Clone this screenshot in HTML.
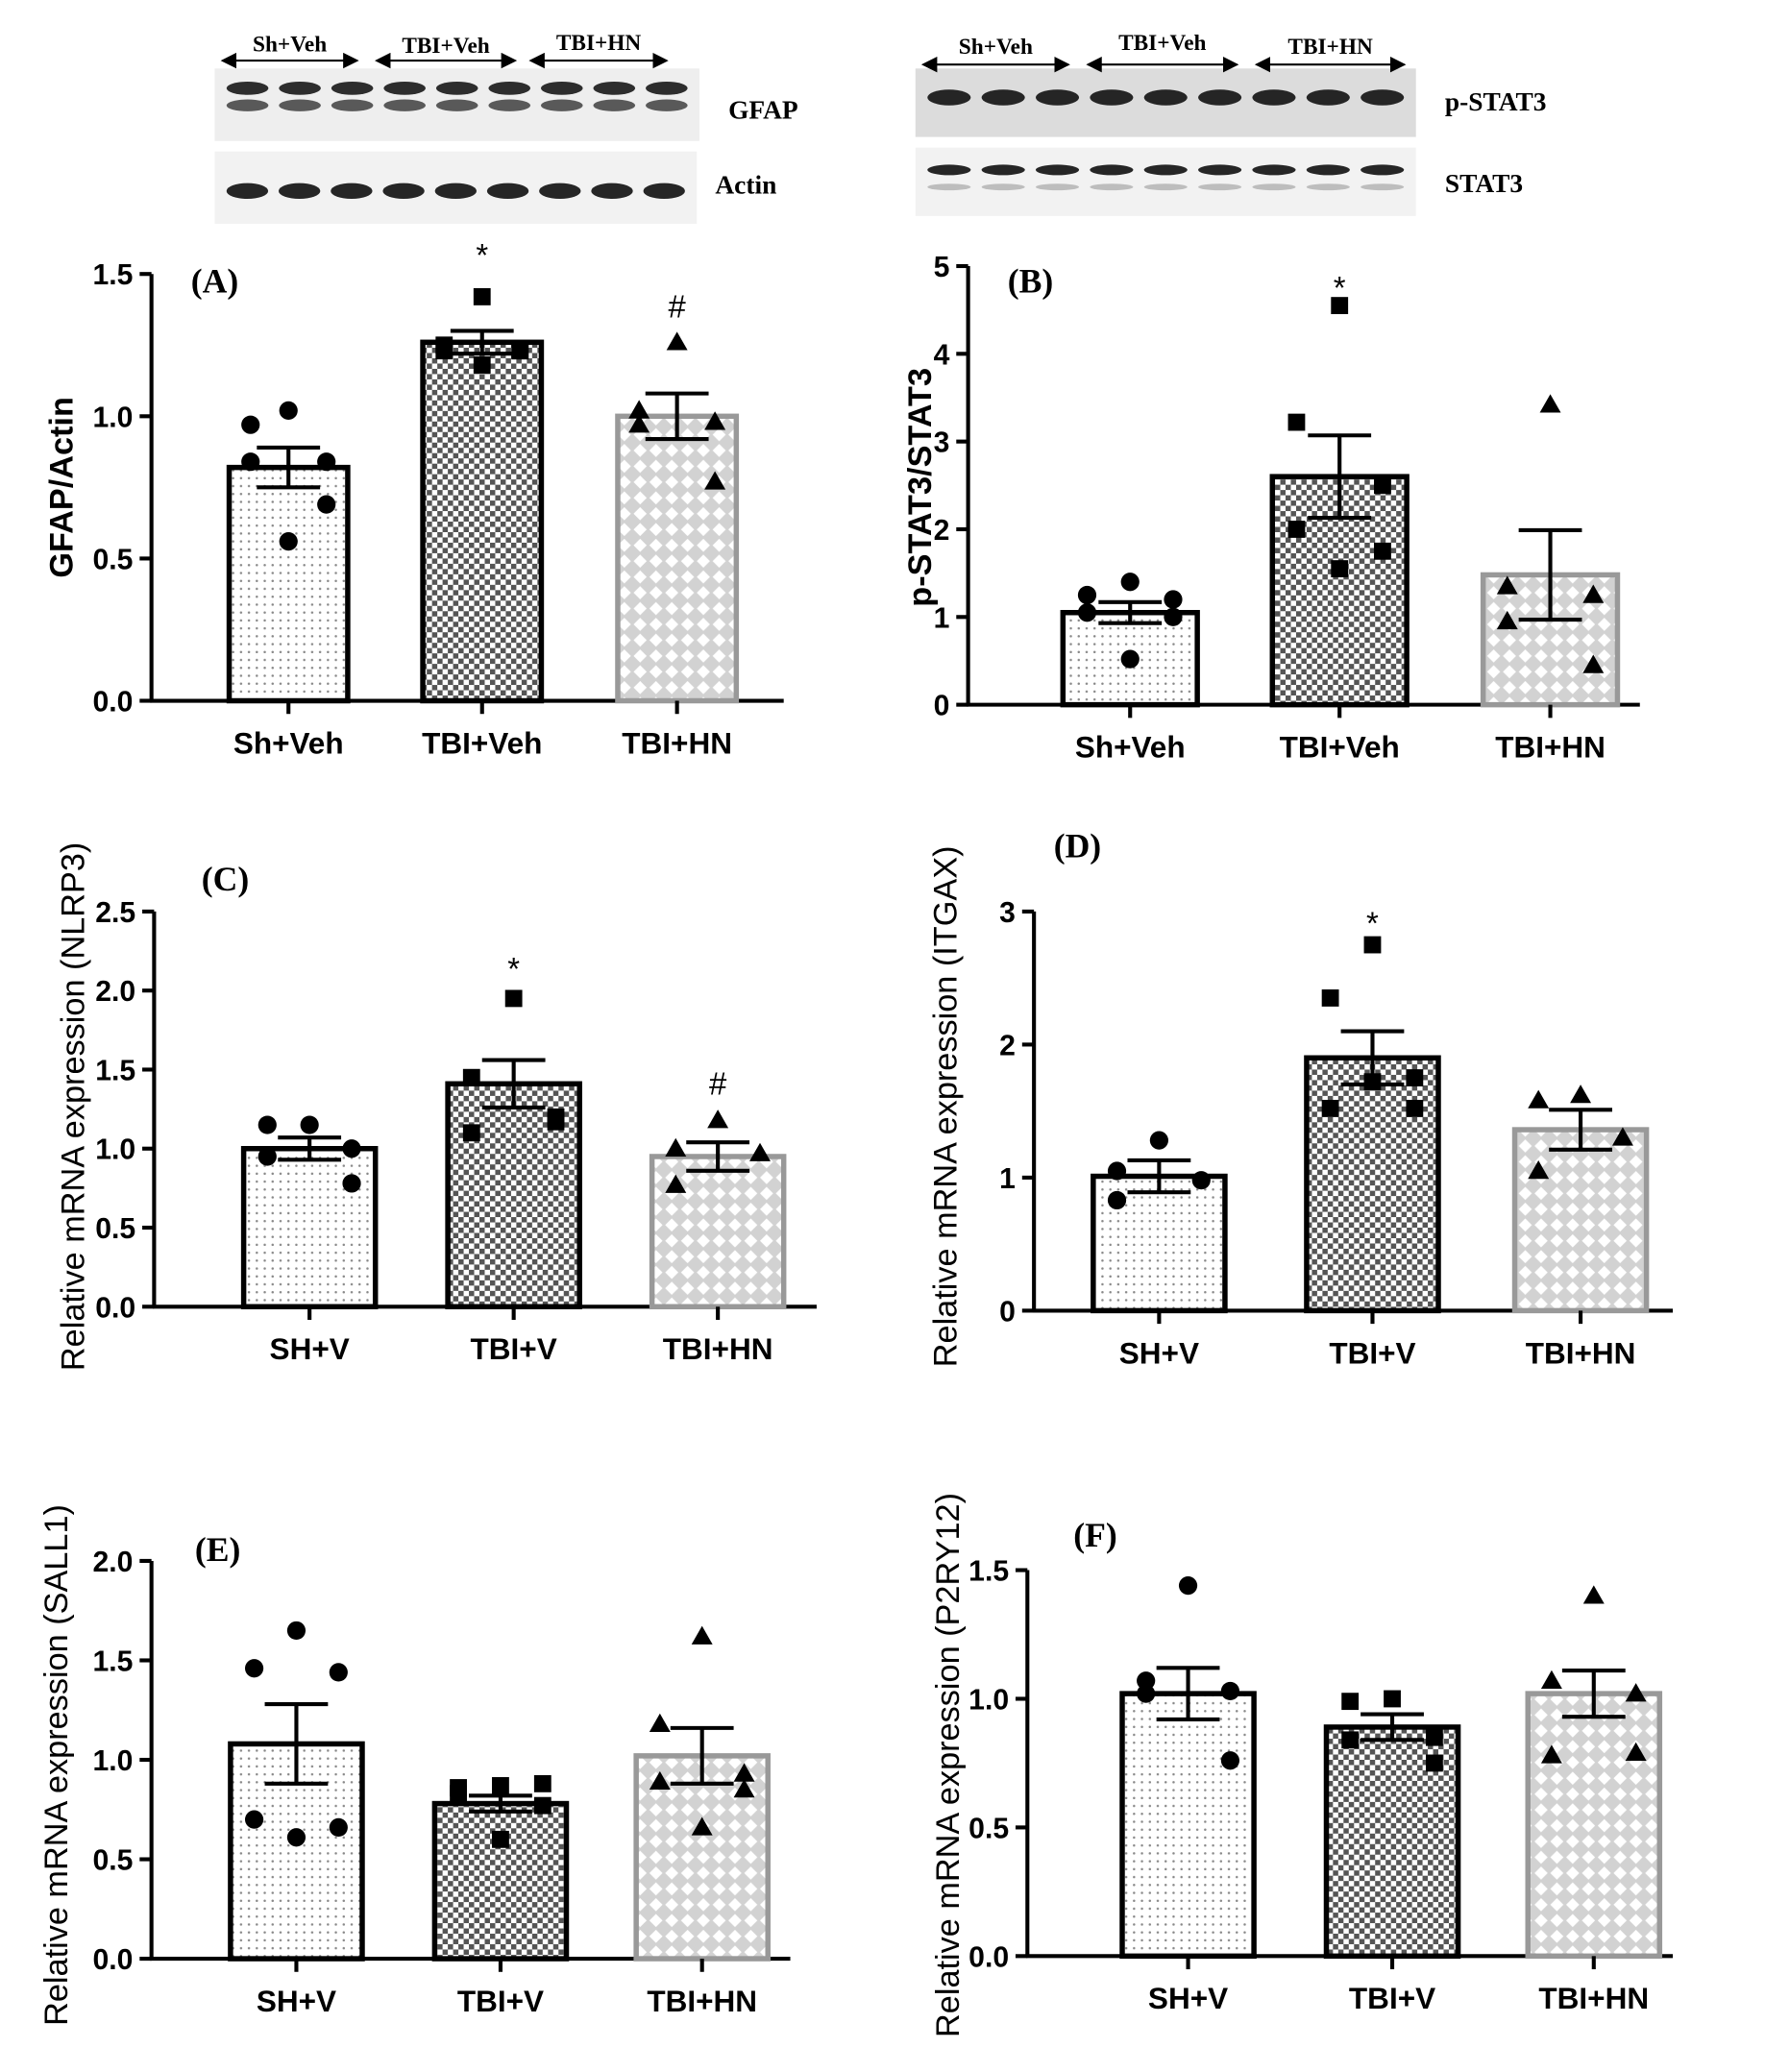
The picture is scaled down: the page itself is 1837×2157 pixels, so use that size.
<!DOCTYPE html>
<html><head><meta charset="utf-8"><style>
html,body{margin:0;padding:0;background:#fff;}
svg{display:block;}
text{font-family:"Liberation Sans",sans-serif;}
.serif{font-family:"Liberation Serif",serif;font-weight:bold;}
</style></head><body>
<svg id="fig" xmlns="http://www.w3.org/2000/svg" width="1837" height="2157" viewBox="0 0 1340 1573" preserveAspectRatio="none">
<defs>
<pattern id="pDots" width="6" height="6" patternUnits="userSpaceOnUse"><rect width="6" height="6" fill="#fff"/><circle cx="3" cy="3" r="0.9" fill="#888"/></pattern>
<pattern id="pCheck" width="8" height="8" patternUnits="userSpaceOnUse"><rect width="8" height="8" fill="#fff"/><rect width="4" height="4" fill="#555"/><rect x="4" y="4" width="4" height="4" fill="#555"/></pattern>
<pattern id="pHatch" width="12" height="12" patternUnits="userSpaceOnUse"><rect width="12" height="12" fill="#d2d2d2"/><path d="M6 1 L11 6 L6 11 L1 6 Z" fill="#fff"/></pattern>
<marker id="ah" markerWidth="8" markerHeight="8" refX="7" refY="4" orient="auto-start-reverse"><path d="M0 0 L8 4 L0 8 Z" fill="#000"/></marker>
</defs>
<g id="blots"></g>
<g id="charts"></g>
</svg>
<script>
// ---- chart data ----
const groupsA = ["Sh+Veh","TBI+Veh","TBI+HN"];
const meansA = [0.82,1.26,1.0];
const semA = [0.07,0.04,0.08];
const ptsA_sh = [1.02,0.97,0.84,0.84,0.69,0.56];
const ptsA_tbi = [1.42,1.25,1.23,1.23,1.23,1.18];
const ptsA_hn = [1.26,1.02,0.98,0.97,0.77];
const ticksA = [0,0.5,1.0,1.5];
const tickLabelsA = ["0.0","0.5","1.0","1.5"];

const groupsB = ["Sh+Veh","TBI+Veh","TBI+HN"];
const meansB = [1.05,2.6,1.48];
const semB = [0.12,0.47,0.51];
const ptsB_sh = [1.4,1.25,1.2,1.05,1.0,0.52];
const ptsB_tbi = [4.55,3.22,2.5,2.0,1.75,1.55];
const ptsB_hn = [3.42,1.35,1.25,0.95,0.45];
const ticksB = [0,1,2,3,4,5];
const tickLabelsB = ["0","1","2","3","4","5"];

const groupsC = ["SH+V","TBI+V","TBI+HN"];
const meansC = [1.0,1.41,0.95];
const semC = [0.07,0.15,0.09];
const ptsC_sh = [1.15,1.15,1.0,0.95,0.78];
const ptsC_tbi = [1.95,1.45,1.2,1.1,1.17];
const ptsC_hn = [1.18,1.0,0.97,0.77];
const ticksC = [0,0.5,1.0,1.5,2.0,2.5];
const tickLabelsC = ["0.0","0.5","1.0","1.5","2.0","2.5"];

const groupsD = ["SH+V","TBI+V","TBI+HN"];
const meansD = [1.01,1.9,1.36];
const semD = [0.12,0.2,0.15];
const ptsD_sh = [1.28,1.05,0.98,0.83];
const ptsD_tbi = [2.75,2.35,1.75,1.52,1.52,1.72];
const ptsD_hn = [1.62,1.58,1.3,1.05];
const ticksD = [0,1,2,3];
const tickLabelsD = ["0","1","2","3"];

const groupsE = ["SH+V","TBI+V","TBI+HN"];
const meansE = [1.08,0.78,1.02];
const semE = [0.2,0.04,0.14];
const ptsE_sh = [1.65,1.46,1.44,0.7,0.66,0.61];
const ptsE_tbi = [0.87,0.86,0.88,0.83,0.77,0.6];
const ptsE_hn = [1.62,1.18,0.93,0.89,0.85,0.66];
const ticksE = [0,0.5,1.0,1.5,2.0];
const tickLabelsE = ["0.0","0.5","1.0","1.5","2.0"];

const groupsF = ["SH+V","TBI+V","TBI+HN"];
const meansF = [1.02,0.89,1.02];
const semF = [0.1,0.05,0.09];
const ptsF_sh = [1.44,1.07,1.03,1.02,0.76];
const ptsF_tbi = [1.0,0.99,0.85,0.84,0.75];
const ptsF_hn = [1.4,1.07,1.02,0.78,0.79];
const ticksF = [0,0.5,1.0,1.5];
const tickLabelsF = ["0.0","0.5","1.0","1.5"];

const NS="http://www.w3.org/2000/svg";
function mk(tag, attrs, parent){const e=document.createElementNS(NS,tag);for(const k in attrs)e.setAttribute(k,attrs[k]);if(parent)parent.appendChild(e);return e;}
// symmetric scatter layout (style, not data)
const JIT=[0,-1,1,-0.5,0.5,0];
function jitter(j){const s=[0,-1,1,-1,1,0,-0.5,0.5];return s[j%s.length];}

function chart(cfg){
  const g=mk("g",{},document.getElementById("charts"));
  
  
  const y=v=>cfg.y0+(cfg.yTop-cfg.y0)*(v/cfg.yMax);
  const x=i=>cfg.centers[i];
  const ya=mk("line",{x1:cfg.ax,y1:cfg.yTop,x2:cfg.ax,y2:cfg.y0,stroke:"#000","stroke-width":3},g);
  
  const xa=mk("line",{x1:cfg.ax-1,y1:cfg.y0,x2:cfg.axEnd,y2:cfg.y0,stroke:"#000","stroke-width":3},g);
  
  cfg.ticks.forEach((t,i)=>{
    mk("line",{x1:cfg.ax-9,y1:y(t),x2:cfg.ax,y2:y(t),stroke:"#000","stroke-width":3},g);
    const tl=mk("text",{x:cfg.ax-14,y:y(t)+8,"text-anchor":"end","font-size":22,"font-weight":"bold"},g);
    tl.textContent=cfg.tickLabels[i];
    
  });
  const fills=["url(#pDots)","url(#pCheck)","url(#pHatch)"];
  const strokes=["#000","#000","#999"];
  const pts=[cfg.p0,cfg.p1,cfg.p2];
  cfg.groups.forEach((gname,i)=>{
    const cx=x(i), w=cfg.bw;
    const bar=mk("rect",{x:cx-w/2,y:y(cfg.means[i]),width:w,height:cfg.y0-y(cfg.means[i]),fill:fills[i],stroke:strokes[i],"stroke-width":4},g);
    
    
    mk("line",{x1:cx,y1:cfg.y0,x2:cx,y2:cfg.y0+10,stroke:"#000","stroke-width":3},g);
    const lab=mk("text",{x:cx,y:cfg.y0+40,"text-anchor":"middle","font-size":23,"font-weight":"bold"},g);
    lab.textContent=gname;
    
    pts[i].forEach((v,j)=>{
      const off=jitter(j)*w*0.32;
      const py=y(v), px=cx+off;
      let m;
      if(i===0) m=mk("circle",{cx:px,cy:py,r:7,fill:"#000"},g);
      else if(i===1) m=mk("rect",{x:px-6.5,y:py-6.5,width:13,height:13,fill:"#000"},g);
      else m=mk("path",{d:`M${px} ${py-8} L${px+8} ${py+6} L${px-8} ${py+6} Z`,fill:"#000"},g);
      
    });
    const hi=y(cfg.means[i]+cfg.sem[i]), lo=y(cfg.means[i]-cfg.sem[i]);
    const eb=mk("path",{d:`M${cx} ${lo} L${cx} ${hi} M${cx-24} ${hi} L${cx+24} ${hi} M${cx-24} ${lo} L${cx+24} ${lo}`,stroke:"#000","stroke-width":3,fill:"none"},g);
    
    if(cfg.marks&&cfg.marks[i]){
      const mt=mk("text",{x:cx,y:y(cfg.means[i])-cfg.markOff[i],"text-anchor":"middle","font-size":24,"font-family":"Liberation Serif"},g);
      mt.textContent=cfg.marks[i];
      
    }
  });
  const pl=mk("text",{x:cfg.panelX,y:cfg.panelY,"font-size":26,class:"serif"},g);
  pl.textContent=cfg.panel;
  
  const yl=mk("text",{x:0,y:0,"text-anchor":"middle","font-size":cfg.ylSize||25,"font-weight":cfg.ylBold?"bold":"normal",transform:`translate(${cfg.ylX},${cfg.ylY}) rotate(-90)`},g);
  yl.textContent=cfg.ylabel;
  
}

chart({name:"chart-a-gfap",ax:115,axEnd:595,y0:532,yTop:208,yMax:1.5,centers:[219,366,514],bw:90,groups:groupsA,means:meansA,sem:semA,p0:ptsA_sh,p1:ptsA_tbi,p2:ptsA_hn,ticks:ticksA,tickLabels:tickLabelsA,marks:["","*","#"],markOff:[0,58,75],panel:"(A)",panelX:145,panelY:222,ylabel:"GFAP/Actin",ylX:55,ylY:370,ylSize:25,ylBold:true});
chart({name:"chart-b-pstat3",ax:735,axEnd:1245,y0:535,yTop:202,yMax:5,centers:[858,1017,1177],bw:102,groups:groupsB,means:meansB,sem:semB,p0:ptsB_sh,p1:ptsB_tbi,p2:ptsB_hn,ticks:ticksB,tickLabels:tickLabelsB,marks:["","*",""],markOff:[0,135,0],panel:"(B)",panelX:765,panelY:222,ylabel:"p-STAT3/STAT3",ylX:707,ylY:370,ylSize:25,ylBold:true});
chart({name:"chart-c-nlrp3",ax:117,axEnd:620,y0:992,yTop:692,yMax:2.5,centers:[235,390,545],bw:100,groups:groupsC,means:meansC,sem:semC,p0:ptsC_sh,p1:ptsC_tbi,p2:ptsC_hn,ticks:ticksC,tickLabels:tickLabelsC,marks:["","*","#"],markOff:[0,79,47],panel:"(C)",panelX:153,panelY:676,ylabel:"Relative mRNA expression (NLRP3)",ylX:64,ylY:840});
chart({name:"chart-d-itgax",ax:785,axEnd:1270,y0:995,yTop:692,yMax:3,centers:[880,1042,1200],bw:100,groups:groupsD,means:meansD,sem:semD,p0:ptsD_sh,p1:ptsD_tbi,p2:ptsD_hn,ticks:ticksD,tickLabels:tickLabelsD,marks:["","*",""],markOff:[0,94,0],panel:"(D)",panelX:800,panelY:651,ylabel:"Relative mRNA expression (ITGAX)",ylX:726,ylY:840});
chart({name:"chart-e-sall1",ax:115,axEnd:600,y0:1487,yTop:1185,yMax:2.0,centers:[225,380,533],bw:100,groups:groupsE,means:meansE,sem:semE,p0:ptsE_sh,p1:ptsE_tbi,p2:ptsE_hn,ticks:ticksE,tickLabels:tickLabelsE,panel:"(E)",panelX:148,panelY:1185,ylabel:"Relative mRNA expression (SALL1)",ylX:51,ylY:1340});
chart({name:"chart-f-p2ry12",ax:780,axEnd:1270,y0:1485,yTop:1192,yMax:1.5,centers:[902,1057,1210],bw:100,groups:groupsF,means:meansF,sem:semF,p0:ptsF_sh,p1:ptsF_tbi,p2:ptsF_hn,ticks:ticksF,tickLabels:tickLabelsF,panel:"(F)",panelX:815,panelY:1174,ylabel:"Relative mRNA expression (P2RY12)",ylX:728,ylY:1340});

// ---- western blots ----
function blot(name,x0,y0,w,h,bg,lanes,bands){
  const g=mk("g",{},document.getElementById("blots"));
  
  mk("rect",{x:x0,y:y0,width:w,height:h,fill:bg},g);
  const lw=(w-10)/lanes;
  for(let i=0;i<lanes;i++){
    bands.forEach(b=>{
      mk("ellipse",{cx:x0+5+lw*(i+0.5),cy:y0+b[0],rx:lw*0.4,ry:b[1],fill:b[2],opacity:b[3]},g);
    });
  }
}
blot("gfap-blot",163,52,368,55,"#eeeeee",9,[[15,5,"#222",0.95],[28,4.5,"#333",0.8]]);
blot("actin-blot",163,115,366,55,"#f2f2f2",9,[[30,6,"#1a1a1a",0.95]]);
blot("pstat3-blot",695,52,380,52,"#dcdcdc",9,[[22,6,"#1a1a1a",0.95]]);
blot("stat3-blot",695,112,380,52,"#f2f2f2",9,[[17,4,"#1a1a1a",0.95],[30,2.5,"#999",0.6]]);
const bl=document.getElementById("blots");
function arrow(x1,x2,y,lab,ly){
  const a=mk("line",{x1:x1+6,y1:y,x2:x2-6,y2:y,stroke:"#000","stroke-width":1.5,"marker-start":"url(#ah)","marker-end":"url(#ah)"},bl);
  
  const t=mk("text",{x:(x1+x2)/2,y:ly,"text-anchor":"middle","font-size":17,class:"serif"},bl);
  t.textContent=lab;
  
}
arrow(163,277,46,"Sh+Veh",39);arrow(280,397,46,"TBI+Veh",40);arrow(397,512,46,"TBI+HN",38);
arrow(695,817,49,"Sh+Veh",41);arrow(820,945,49,"TBI+Veh",38);arrow(948,1072,49,"TBI+HN",41);
[["GFAP",553,90],["Actin",543,147],["p-STAT3",1097,84],["STAT3",1097,146]].forEach(l=>{
  const t=mk("text",{x:l[1],y:l[2],"font-size":20,class:"serif"},bl);
  t.textContent=l[0];
  
});
</script>
</body></html>
